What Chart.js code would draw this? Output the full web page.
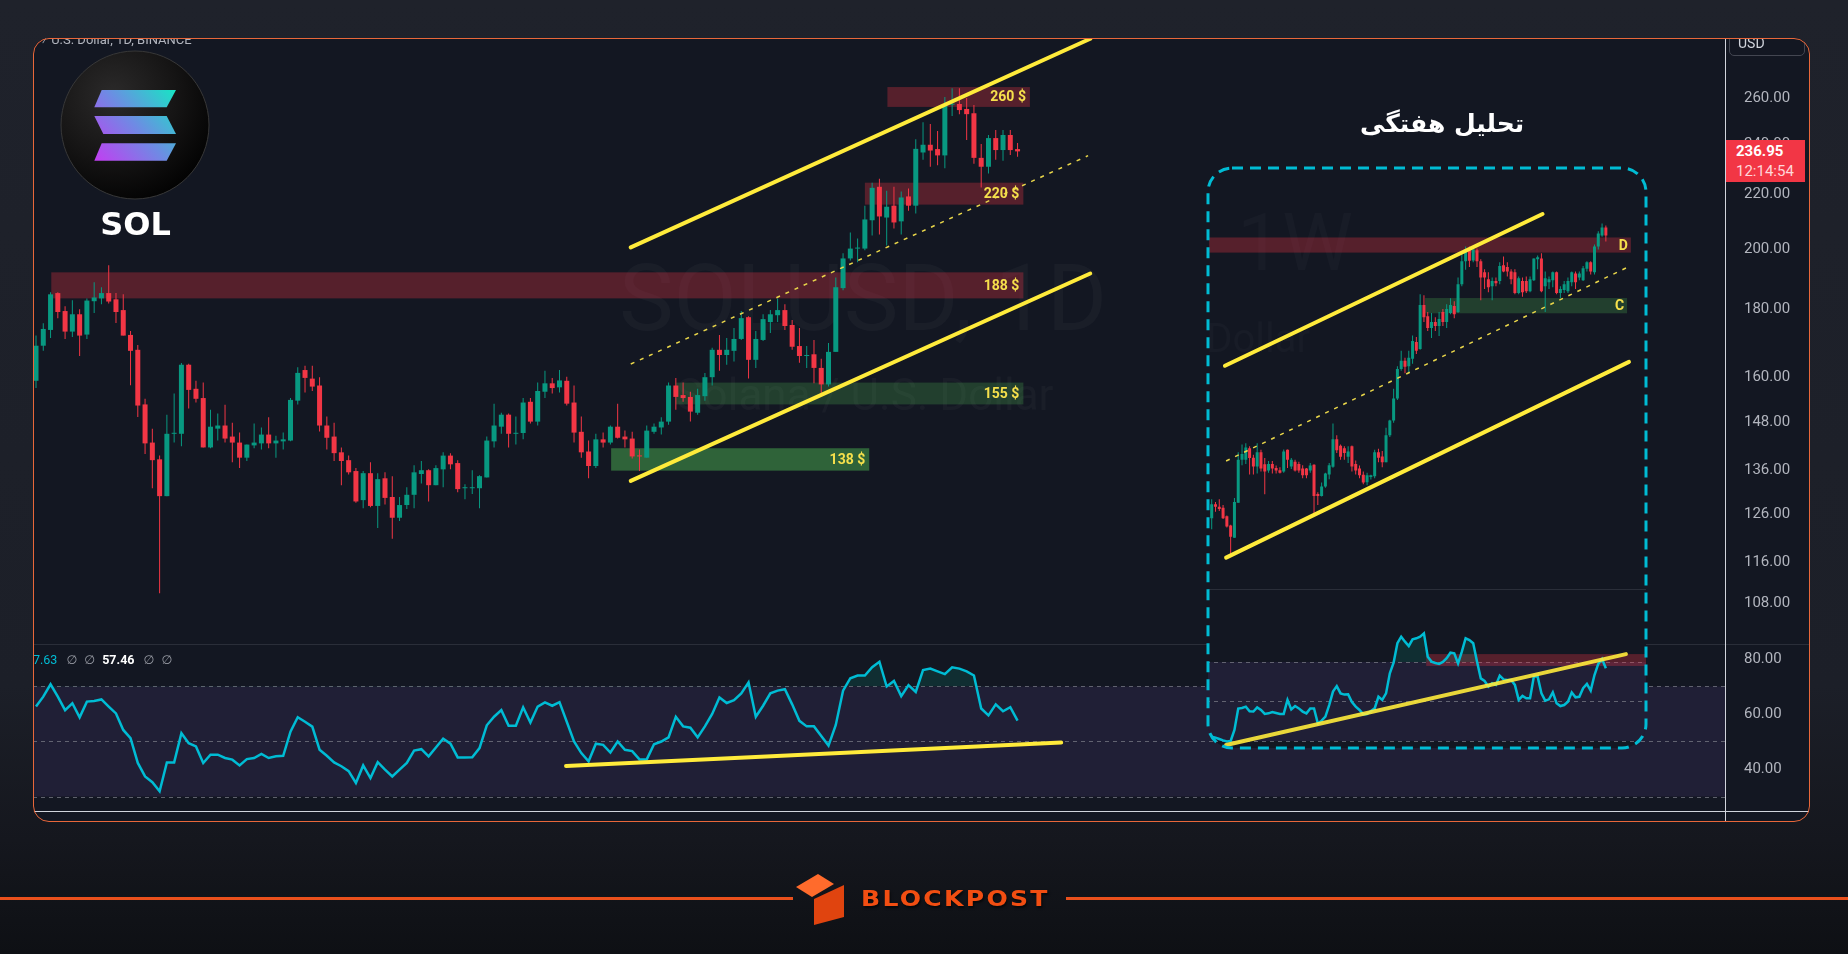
<!DOCTYPE html>
<html lang="en">
<head>
<meta charset="UTF-8">
<title>SOL/USD daily and weekly</title>
<script src="https://cdn.jsdelivr.net/npm/chart.js"></script>
<style>
  html, body { margin: 0; padding: 0; }
  body {
    position: relative; width: 1848px; height: 954px; overflow: hidden;
    background: linear-gradient(180deg, #1f222b 0%, #1c1f28 72%, #15171e 88%, #0e1014 100%);
    font-family: Roboto, "DejaVu Sans", sans-serif;
  }
  .frame {
    position: absolute; left: 33px; top: 38px; width: 1777px; height: 784px;
    border-radius: 16px; overflow: hidden; background: #131722;
  }
  .frame-border {
    position: absolute; left: 33px; top: 38px; width: 1777px; height: 784px; box-sizing: border-box;
    border: 1px solid #e8673a; border-radius: 16px; pointer-events: none;
  }
  canvas { position: absolute; display: block; }
  #priceChart { left: 0; top: 0; }
  #rsiChart { left: 0; top: 606px; }
  #weeklyChart { left: 1173px; top: 128px; }
  .line { position: absolute; }
  .header { position: absolute; left: 9px; top: -6px; font-size: 13px; line-height: 16px; color: #b2b5be; white-space: nowrap; }
  .usd {
    position: absolute; left: 1696px; top: -7px; width: 76px; height: 25px; box-sizing: border-box;
    border: 1px solid #434651; border-radius: 5px; color: #d1d4dc; font-size: 14px;
    line-height: 23px; padding-left: 8px;
  }
  .tag {
    position: absolute; left: 1693px; top: 102px; width: 79px; height: 42px; box-sizing: border-box;
    background: #f23645; padding: 2px 0 0 10px; font-size: 15px; line-height: 19.5px;
  }
  .tag b { color: #fff; display: block; }
  .tag span { color: #ffd6d9; display: block; }
  .legend { position: absolute; left: -7px; top: 614px; font-size: 12.5px; line-height: 16px; white-space: nowrap; color: #9598a1; }
  .legend span { margin-right: 7px; }
  .legend .v { color: #00bcd4; margin-right: 9px; }
  .legend .w { color: #ffffff; font-weight: bold; margin-right: 9px; }
  .title {
    position: absolute; left: 1342px; top: 107px; width: 200px; text-align: center; direction: rtl;
    font-family: "DejaVu Sans", sans-serif; font-weight: bold; font-size: 25px; line-height: 34px; color: #ffffff;
  }
  .decor { position: absolute; left: 0; top: 0; pointer-events: none; }
  .brand {
    position: absolute; left: 861px; top: 886px; font-family: "DejaVu Sans", sans-serif; font-weight: bold;
    font-size: 22px; line-height: 26px; letter-spacing: 2px; color: #f24e12;
    transform: scaleX(1.14); transform-origin: left center; text-shadow: 1px 2px 2px rgba(0,0,0,0.6);
  }
</style>
</head>
<body>

<div class="frame">
  <canvas id="priceChart" width="1776" height="606"></canvas>
  <canvas id="rsiChart" width="1776" height="178"></canvas>
  <div class="line" style="left:0;top:606px;width:1776px;height:1px;background:#2a2e39"></div>
  <canvas id="weeklyChart" width="442" height="584"></canvas>
  <div class="line" style="left:1692px;top:0;width:1px;height:784px;background:#d1d4dc"></div>
  <div class="line" style="left:0;top:773px;width:1776px;height:1px;background:#d1d4dc"></div>
  <div class="header">⁄ U.S. Dollar, 1D, BINANCE</div>
  <div class="usd">USD</div>
  <div class="tag"><b>236.95</b><span>12:14:54</span></div>
  <div class="legend"><span class="v">57.63</span><span>∅</span><span>∅</span><span class="w">57.46</span><span>∅</span><span>∅</span></div>
</div>
<div class="frame-border"></div>

<div class="title">تحلیل هفتگی</div>

<svg class="decor" width="1848" height="954" viewBox="0 0 1848 954">
  <defs>
    <radialGradient id="coinFill" cx="0.35" cy="0.3" r="0.8">
      <stop offset="0" stop-color="#2b2a2a"/>
      <stop offset="0.55" stop-color="#151414"/>
      <stop offset="1" stop-color="#000000"/>
    </radialGradient>
    <linearGradient id="barFill" x1="94" y1="161" x2="176" y2="90" gradientUnits="userSpaceOnUse">
      <stop offset="0" stop-color="#c43cf2"/>
      <stop offset="0.5" stop-color="#6f8ae4"/>
      <stop offset="1" stop-color="#16e6c4"/>
    </linearGradient>
  </defs>
  <circle cx="135" cy="125" r="74" fill="url(#coinFill)" stroke="#383838" stroke-width="1"/>
  <path d="M101.7 90 H176 L166.7 107.3 H94.3 Z" fill="url(#barFill)"/>
  <path d="M94.3 116 H166.7 L176 134 H103.3 Z" fill="url(#barFill)"/>
  <path d="M101.7 143.3 H176 L166.7 160.7 H94.3 Z" fill="url(#barFill)"/>
  <text x="135.5" y="235" text-anchor="middle" font-family="DejaVu Sans" font-weight="bold" font-size="32" fill="#ffffff">SOL</text>
  <rect x="0" y="897" width="793" height="3" fill="#e9501c"/>
  <rect x="1066" y="897" width="782" height="3" fill="#e9501c"/>
  <polygon points="818,874 834,884 812,897 796,887" fill="#ff6b2c"/>
  <polygon points="814,899 844,885 844,917 814,925" fill="#e0440f"/>
</svg>
<div class="brand">BLOCKPOST</div>

<script>
const UP = '#089981';
const DOWN = '#f23645';
const YELLOW = '#ffeb3b';
const BG = '#131722';
const LABEL_YELLOW = '#f6e04c';

// daily candles, [open, high, low, close]
const dailyCandles = [
  [159, 172, 157, 169], [169, 175.7, 167.5, 174], [173.7, 185.5, 171.3, 184.8], [185.2, 185.5, 177.3, 179.2],
  [179.5, 181, 171, 173.2], [173.2, 182.9, 171.6, 178.5], [178.5, 180.1, 166, 172], [172.3, 183.5, 171, 182.8],
  [182.6, 188.7, 178.9, 183.8], [183.5, 187.1, 181.6, 185.2], [185.2, 194.4, 181.9, 182.5], [183.2, 185.2, 175.8, 179.2],
  [179.8, 184.8, 172, 172], [172.2, 173.4, 157.8, 167.5], [167.8, 169.2, 149.3, 152.3], [152.6, 154.1, 140, 142.6],
  [142.8, 146.3, 131.9, 138.5], [138.7, 139.6, 109.9, 130.1], [130.1, 149.9, 130.1, 145], [145, 155.5, 142.8, 145.2],
  [145, 164, 141.9, 163.5], [163.5, 163.8, 151.5, 156.5], [156.8, 159, 153.1, 154.1], [154.3, 158.5, 141.6, 141.6],
  [141.6, 151.2, 141.4, 146.8], [146.3, 150.2, 143.3, 147.1], [147.1, 152.5, 142.8, 143.8], [144.3, 147.8, 138, 142.8],
  [142.8, 145.3, 136.6, 139.1], [139.1, 142.3, 138.3, 142.3], [142.1, 147.6, 141.4, 142.8], [142.6, 146.6, 141.1, 144.8],
  [144.8, 149.2, 141.4, 142.6], [142.6, 144.5, 139.1, 143.3], [143.1, 145.3, 141.1, 143.6], [143.3, 154.3, 143.1, 153.8],
  [153.6, 162.8, 152.6, 161.2], [162, 163.2, 155.8, 159.8], [159.6, 163.2, 156.2, 157.4], [157.7, 160, 145.6, 147.1],
  [147.1, 149.4, 141.1, 144], [144.3, 147.8, 138.3, 140.2], [140.4, 141.6, 132.6, 138.3], [138.5, 139.6, 135.1, 135.6],
  [135.9, 136.6, 128.6, 128.9], [129.2, 135.9, 127.4, 135.4], [135.4, 138, 127.6, 127.9], [127.9, 135.4, 123.1, 134],
  [134.2, 135.6, 128.2, 129.7], [129.9, 134.7, 120.8, 125.3], [125.3, 129.9, 124.6, 128.1], [128.1, 132.1, 127.2, 130.4],
  [130.4, 137.3, 127.4, 135.6], [135.2, 138.3, 133, 136.1], [136.1, 136.3, 128.9, 132.6], [132.6, 137.3, 132.6, 136.6],
  [136.3, 140.4, 132.1, 139.6], [139.6, 140.2, 136.3, 137.5], [137.8, 138.5, 131, 131.7], [131.9, 132.8, 129.4, 132.1],
  [131.9, 136.1, 130.6, 132.1], [131.9, 134.9, 127.4, 134.7], [134.4, 144.3, 134.4, 143.3], [143.1, 152.8, 141.6, 147.1],
  [146.8, 150.4, 145, 149.9], [149.9, 150.2, 141.6, 145], [145, 149.4, 142.3, 145.2], [145.2, 154.3, 143.6, 153.1],
  [153.3, 154.3, 147.6, 148.1], [148.1, 158.5, 147.1, 156.2], [156, 161.8, 154.3, 158.3], [158.3, 159.8, 155.5, 157],
  [157.2, 162, 155.8, 159.1], [159, 160.1, 152.3, 152.8], [153.1, 157.7, 142.8, 145.3], [145.5, 149.4, 139.1, 140.4],
  [140.6, 143.3, 134.2, 137.1], [137.1, 145, 136.6, 143.6], [143.6, 145.3, 141.6, 142.8], [142.8, 147.1, 142.3, 146.8],
  [146.8, 152.8, 143.8, 144], [144.3, 145.8, 141.6, 143.6], [143.8, 145.5, 138.9, 139.4], [139.6, 141.1, 135.9, 139.4],
  [139.1, 147.1, 139.1, 145.8], [145.5, 147.6, 145, 146.8], [146.6, 149.2, 144.8, 148.1], [148.1, 158.5, 147.3, 157.7],
  [157.7, 159.8, 151.2, 154.6], [155.1, 158.5, 153.3, 154.3], [154.6, 156, 148.1, 150.7], [150.4, 156.8, 149.9, 155.1],
  [154.8, 161.2, 153.6, 160], [160, 168.4, 157.7, 167.8], [167.8, 172.2, 161.8, 166.3], [166.3, 171.3, 163.5, 167.8],
  [167.5, 174.3, 164.4, 171], [171, 179.5, 170.7, 177.3], [177.6, 177.9, 159.6, 164.9], [164.9, 173.4, 162.6, 171],
  [170.7, 178.5, 170.4, 177], [176.1, 179.8, 172.8, 178.5], [178.2, 183.5, 176.1, 179.8], [179.8, 181.6, 173.7, 174.9],
  [175.2, 176.7, 167.8, 168.7], [168.9, 174.3, 164.1, 166], [166, 168.9, 162.6, 166.2], [166.5, 170.7, 158.3, 162.6],
  [162.6, 165.2, 155.5, 158], [158, 169.8, 157.4, 167.2], [167.2, 190.3, 167.2, 187.1], [186.8, 198.5, 186.1, 196.7],
  [196.7, 205.8, 196, 200.1], [200.1, 203.6, 195.4, 200.3], [200.1, 215.6, 199.5, 210.5], [210.2, 224.4, 204.7, 222.4],
  [222.8, 225.9, 205.1, 211.6], [211.2, 221.3, 201.2, 215.2], [215.6, 222.8, 207.2, 209.4], [209.8, 221, 205.1, 218.7],
  [219.1, 222.1, 213.7, 215.6], [215.6, 242, 212.7, 238], [236.5, 249.3, 233.5, 239.7], [239.7, 248.5, 230.7, 237.3],
  [237.9, 245.5, 231.3, 235.3], [235.3, 260.4, 230.1, 256.9], [257, 264.5, 252, 257.3], [257.3, 264.5, 252.8, 254.6],
  [255.1, 260, 241.7, 252.8], [253.2, 256.9, 231.9, 234.3], [234.3, 240, 222.5, 230.7], [230.7, 243.8, 228, 242.5],
  [242.5, 245.9, 233.5, 237.5], [237.5, 245.9, 233.1, 243.8], [243.8, 245.9, 235.5, 237.5], [237.9, 240.4, 234.7, 236.95]
];

// daily RSI, one value per daily candle
const dailyRsi = [
  62.7, 66.3, 70.8, 66.3, 61.4, 63.9, 58.8, 64.5, 64.7, 65.3,
  62.7, 60.2, 54.2, 51.2, 42.2, 37.3, 35.2, 31.9, 42.4, 42.4,
  53, 49.4, 48.2, 42.2, 45.2, 45.2, 44, 43.4, 41.3, 43.6,
  44, 45.5, 44, 44.6, 44.8, 53.6, 58.8, 57.2, 55.4, 47,
  44.8, 42.4, 41, 39.2, 34.9, 41.3, 36.7, 42.5, 39.8, 37.3,
  39.8, 42.2, 46.7, 47.2, 44.6, 47.8, 51, 49.2, 44.2, 44.2,
  44.3, 47.6, 55.9, 59, 61.4, 55.7, 55.7, 62.4, 56.9, 62.7,
  64.2, 63, 64.3, 57.2, 50, 45.8, 42.8, 49.2, 48.8, 46,
  50, 47, 46.5, 43.5, 43.5, 49, 50, 51.5, 59, 55.5,
  55, 51.5, 55.5, 60, 66, 64, 65, 67.5, 71.5, 59,
  63, 67.5, 68.5, 69, 63.5, 57.5, 55.5, 55.5, 52, 48.5,
  56, 68.5, 73, 74, 74, 77, 79, 70, 72, 66.5,
  70.5, 68, 76, 76.5, 75.5, 74.5, 77, 76.5, 75.5, 74,
  62, 59.5, 63.5, 61, 62.5, 57.6
];

const priceTicks = [260, 240, 220, 200, 180, 160, 148, 136, 126, 116, 108];
const rsiTicks = [80, 60, 40];
const rsiLevels = [70, 50, 30];

// daily zones: candle index range and price range
const zoneLabels = ['188 $', '260 $', '220 $', '155 $', '138 $'];
const zoneKind = ['resistance', 'resistance', 'resistance', 'support', 'strongSupport'];
const zoneStart = [2.1, 117.1, 114.0, 88.0, 79.1];
const zoneEnd = [135.8, 136.7, 135.8, 135.8, 114.6];
const zoneHigh = [192.0, 265.0, 224.4, 158.5, 141.4];
const zoneLow = [183.5, 256.0, 216.0, 152.6, 136.0];

// daily rising channel: upper rail, lower rail (solid) and the dashed mid line
const railStart = [81.8, 81.8];
const railEnd = [145.0, 145.0];
const railFrom = [200.5, 133.6];
const railTo = [288.2, 191.6];
const midStart = [81.8, 163.7];
const midEnd = [144.7, 235.2];
const rsiTrendIdx = [72.9, 141.0];
const rsiTrendVal = [41.1, 49.6];

// weekly inset candles, [open, high, low, close]
const weeklyCandles = [
  [125.2, 129.4, 122.8, 128.3], [128.3, 128.8, 126.6, 127.7], [127.7, 129.4, 126.8, 127.2], [127.5, 128.1, 125, 125.2],
  [125.6, 125.8, 123.2, 123.4], [123.6, 123.8, 117, 121.2], [121, 129.7, 121, 128.8], [128.6, 140.4, 128.6, 138.6],
  [138.6, 142.3, 137.3, 140], [138.6, 142.6, 137.6, 141.6], [141.4, 141.9, 135.1, 139], [139.1, 139.8, 135.1, 137],
  [137, 142.6, 135.3, 140.4], [140.4, 141, 135.8, 136.5], [137.5, 139, 130.5, 135.8], [136, 138.3, 135.5, 137.6],
  [137.6, 138.3, 135.3, 136.5], [136.6, 137.2, 135.3, 136], [136.1, 136.8, 135.3, 135.5], [135.8, 141.1, 135.5, 140.6],
  [141, 141.1, 136.6, 138.6], [137, 139, 136.4, 138.6], [138.1, 138.6, 135.8, 136], [137.6, 138.1, 135.5, 136],
  [136.5, 137.3, 134.2, 134.9], [136.5, 136.6, 134.2, 134.9], [136, 137.8, 135.5, 137.2], [137.4, 137.5, 126.3, 130.1],
  [130.6, 131, 128.1, 130.1], [130.1, 133.2, 130, 132.3], [132.3, 135.5, 132, 135.3], [135.1, 137.8, 134, 137.3],
  [136.9, 147.6, 136.7, 143.6], [143.6, 144.6, 140.2, 140.9], [142, 142.3, 138.6, 139.3], [141.4, 141.9, 138.6, 140.2],
  [139.3, 141.9, 137.8, 140.6], [141.9, 142.1, 135.8, 137], [137.6, 138.4, 135.1, 136], [136.5, 137.2, 134.2, 134.9],
  [135, 135.8, 132.8, 133.2], [133.3, 135.5, 132.6, 134.9], [134.5, 135, 133.9, 134.9], [134.7, 141, 134.2, 140.4],
  [140.4, 141.3, 138, 139.1], [139.4, 140.7, 136.8, 138], [138, 146.5, 138, 144.6], [144.6, 148.6, 144.2, 148.4],
  [148.4, 156.8, 147.8, 154.2], [154.2, 163.1, 153.8, 162.3], [162.3, 167.5, 161.8, 164.6], [164.6, 165.5, 161.1, 162.9],
  [163.1, 167.5, 161.1, 165.5], [165.2, 172, 163.8, 170.4], [170.1, 171.6, 166.6, 167.5], [168, 184.8, 167.8, 181.4],
  [181.4, 184.5, 176.1, 177.6], [177.9, 179.2, 173.4, 174.3], [174.3, 178.9, 171.3, 176.1], [176.1, 177.6, 173.4, 174.9],
  [174.9, 179.2, 171.9, 177], [179.2, 180.1, 174.9, 176.1], [176.1, 181.6, 174.3, 180.1], [178.9, 183.5, 178.5, 181.4],
  [181.1, 182.6, 177.3, 178.5], [179.2, 190.3, 178.9, 188.1], [188.1, 199.1, 187.4, 195.7], [195.7, 200.8, 192.9, 199.8],
  [199.8, 200.8, 193.8, 195.9], [196, 200.5, 195.4, 199.8], [199.5, 200.1, 193.8, 195.7], [195.7, 196.4, 182.9, 190.3],
  [192, 193, 186.5, 190.3], [189.7, 192, 185.5, 187.1], [187.4, 190.3, 182.9, 189.1], [189.1, 190.3, 187.4, 188.4],
  [189.1, 195.4, 188.1, 194.1], [194.4, 197.4, 192, 192.3], [193.8, 195.4, 190.6, 192.3], [192.3, 193, 188.1, 189.7],
  [192, 193, 184.8, 185.2], [185.2, 190.6, 184.8, 190], [189.1, 190.3, 184, 185.5], [189.1, 190.6, 185.2, 185.8],
  [185.8, 190.6, 185.5, 189.7], [189.4, 196.7, 189.1, 196.7], [196.4, 197.7, 193, 197.1], [196.7, 198.5, 185.5, 185.8],
  [187.4, 192.3, 179.2, 190], [188.7, 190.6, 186.5, 189.7], [189.4, 192.3, 187.1, 192], [192, 192.3, 184.8, 185.2],
  [185.2, 187.4, 183.5, 186.5], [186.2, 189.1, 185.2, 188.1], [185.8, 190.3, 185.2, 189.1], [188.7, 192.3, 187.4, 192],
  [191.6, 192.3, 186.5, 188.7], [190.3, 192.3, 189.4, 191.6], [189.4, 194.1, 189.1, 193.4], [193.2, 195.7, 192.3, 195.4],
  [195.4, 195.7, 191.3, 192.3], [192, 201.5, 191.3, 200.8], [200.8, 206.2, 199.8, 205.4], [204.7, 209, 204.3, 207.6],
  [207.6, 208.3, 202.6, 204.7]
];

const weeklyRsi = [
  32.2, 31.7, 31, 30.3, 29.8, 30, 35.6, 46.4, 46.7, 47.4,
  45, 44.9, 47, 45.7, 43.7, 44, 44.7, 44.2, 43.7, 43.7,
  50.8, 46, 47.7, 46.5, 44.9, 44, 46.5, 46.5, 38.9, 40.3,
  42.3, 48.2, 55, 57.8, 54.1, 53.5, 53.6, 49.7, 47.4, 45.7,
  43.5, 43.7, 45.2, 46.5, 52.4, 50.8, 54.1, 64.3, 69.7, 79.5,
  82.8, 80.3, 78.1, 81.5, 82, 82.8, 84.5, 72.7, 70.2, 69.5,
  69, 70, 71.9, 74.7, 74.4, 69.3, 75.2, 82, 81.1, 79.5,
  70.2, 61.7, 60.4, 57.5, 59.2, 58.4, 63.1, 61.2, 60.9, 60.9,
  58.4, 50.8, 52.8, 51.6, 51.6, 62.6, 62.6, 54.1, 50.4, 51.1,
  54.6, 49.1, 47.7, 48.2, 49.9, 54.6, 52.1, 52.4, 56.7, 58.9,
  55.5, 63.4, 69, 71.5, 66.8
];

// weekly zones D (resistance) and C (support)
const weeklyZoneLabels = ['D', 'C'];
const weeklyZoneKind = ['resistance', 'support'];
const weeklyZoneStart = [-0.7, 56.3];
const weeklyZoneEnd = [110.6, 109.6];
const weeklyZoneHigh = [204.0, 183.6];
const weeklyZoneLow = [198.7, 178.8];
// weekly channel: upper rail, lower rail, dashed mid line
const weeklyRailStart = [3.5, 3.8];
const weeklyRailEnd = [87.3, 110.1];
const weeklyRailFrom = [163.2, 116.9];
const weeklyRailTo = [212.5, 164.3];
const weeklyMidStart = [3.8, 138.3];
const weeklyMidEnd = [109.7, 193.7];
const weeklyRsiTrendIdx = [3.8, 109.3];
const weeklyRsiTrendVal = [28, 74];
const weeklyRsiBoxIdx = [56.6, 114.6];
const weeklyRsiBoxVal = [68, 74];

const ZONE_FILL = {
  resistance: 'rgba(242, 54, 69, 0.3)',
  support: 'rgba(76, 175, 80, 0.27)',
  strongSupport: 'rgba(76, 175, 80, 0.5)'
};
const BAND_FILL = 'rgba(126, 87, 194, 0.13)';
const LEVEL_LINE = 'rgba(120, 123, 134, 0.75)';
const OB_FILL = { target: { value: 70 }, above: 'rgba(8, 153, 129, 0.18)', below: 'rgba(0, 0, 0, 0)' };

Chart.defaults.font.family = 'Roboto, "DejaVu Sans", sans-serif';

function candleSets(candles, bodyWidth) {
  const colour = ctx => {
    const c = candles[ctx.dataIndex];
    return c && c[3] >= c[0] ? UP : DOWN;
  };
  const common = { type: 'bar', grouped: false, borderWidth: 0, inflateAmount: 0, backgroundColor: colour };
  return [
    Object.assign({}, common, {
      data: candles.map((c, i) => ({ x: i, y: [c[2], c[1]] })),
      barThickness: 1, order: 3
    }),
    Object.assign({}, common, {
      data: candles.map((c, i) => ({ x: i, y: [Math.min(c[0], c[3]), Math.max(c[0], c[3])] })),
      barThickness: bodyWidth, minBarLength: 1, order: 2
    })
  ];
}

function segment(x0, y0, x1, y1, extra) {
  return Object.assign({
    type: 'line',
    data: [{ x: x0, y: y0 }, { x: x1, y: y1 }],
    borderColor: YELLOW, borderWidth: 4, borderCapStyle: 'round',
    pointRadius: 0, fill: false, order: 0
  }, extra || {});
}

function fixedAxis(ticks, min, max, type) {
  return {
    type: type, position: 'right', min: min, max: max,
    afterFit: s => { s.width = 84; s.paddingTop = 0; s.paddingBottom = 0; },
    afterBuildTicks: s => { s.ticks = ticks.map(v => ({ value: v })); },
    grid: { display: false }, border: { display: false },
    ticks: { color: '#b2b5be', padding: 11, autoSkip: false, font: { size: 15 }, callback: v => Number(v).toFixed(2) }
  };
}

function drawZones(chart, labels, kinds, start, end, high, low) {
  const { ctx, scales: { x, y } } = chart;
  labels.forEach((label, i) => {
    const left = x.getPixelForValue(start[i]);
    const right = x.getPixelForValue(end[i]);
    const top = y.getPixelForValue(high[i]);
    const bottom = y.getPixelForValue(low[i]);
    ctx.fillStyle = ZONE_FILL[kinds[i]];
    ctx.fillRect(left, top, right - left, bottom - top);
  });
}

function drawZoneLabels(chart, labels, start, end, high, low, inset) {
  const { ctx, scales: { x, y } } = chart;
  ctx.save();
  ctx.font = 'bold 14px Roboto';
  ctx.fillStyle = LABEL_YELLOW;
  ctx.textAlign = 'right';
  ctx.textBaseline = 'middle';
  labels.forEach((label, i) => {
    const right = x.getPixelForValue(end[i]);
    const mid = (y.getPixelForValue(high[i]) + y.getPixelForValue(low[i])) / 2;
    ctx.fillText(label, right - inset, mid + 1);
  });
  ctx.restore();
}

function drawRsiBand(chart, scale, left, right) {
  const { ctx } = chart;
  const top = scale.getPixelForValue(70);
  const bottom = scale.getPixelForValue(30);
  ctx.fillStyle = BAND_FILL;
  ctx.fillRect(left, top, right - left, bottom - top);
  ctx.save();
  ctx.strokeStyle = LEVEL_LINE;
  ctx.lineWidth = 1;
  ctx.setLineDash([4, 4]);
  rsiLevels.forEach(v => {
    const py = Math.round(scale.getPixelForValue(v)) + 0.5;
    ctx.beginPath();
    ctx.moveTo(left, py);
    ctx.lineTo(right, py);
    ctx.stroke();
  });
  ctx.restore();
}

const dailyDecor = {
  id: 'dailyDecor',
  beforeDatasetsDraw(chart) {
    const { ctx, chartArea: a } = chart;
    ctx.save();
    ctx.beginPath();
    ctx.rect(a.left, a.top, a.width, a.height);
    ctx.clip();
    ctx.fillStyle = 'rgba(255, 255, 255, 0.03)';
    ctx.textAlign = 'center';
    ctx.textBaseline = 'alphabetic';
    ctx.font = '92px Roboto';
    ctx.fillText('SOLUSD, 1D', 830, 292);
    ctx.font = '44px Roboto';
    ctx.fillText('Solana / U.S. Dollar', 832, 372);
    drawZones(chart, zoneLabels, zoneKind, zoneStart, zoneEnd, zoneHigh, zoneLow);
    ctx.restore();
  },
  afterDatasetsDraw(chart) {
    drawZoneLabels(chart, zoneLabels, zoneStart, zoneEnd, zoneHigh, zoneLow, 4);
  }
};

const rsiDecor = {
  id: 'rsiDecor',
  beforeDatasetsDraw(chart) {
    const a = chart.chartArea;
    drawRsiBand(chart, chart.scales.y, a.left, a.right);
  }
};

const weeklyDecor = {
  id: 'weeklyDecor',
  beforeDraw(chart) {
    const { ctx, width, height } = chart;
    ctx.save();
    ctx.beginPath();
    ctx.roundRect(2, 2, width - 4, height - 4, 24);
    ctx.clip();
    ctx.fillStyle = BG;
    ctx.fillRect(0, 0, width, height);
  },
  beforeDatasetsDraw(chart) {
    const { ctx, width, scales } = chart;
    ctx.save();
    ctx.fillStyle = 'rgba(255, 255, 255, 0.025)';
    ctx.textBaseline = 'alphabetic';
    ctx.textAlign = 'left';
    ctx.font = '80px Roboto';
    ctx.fillText('1W', 31, 104);
    ctx.textAlign = 'right';
    ctx.font = '40px Roboto';
    ctx.fillText('Solana / U.S. Dollar', 104, 186);
    ctx.restore();
    ctx.fillStyle = '#2a2e39';
    ctx.fillRect(0, 423, width, 1);
    drawZones(chart, weeklyZoneLabels, weeklyZoneKind, weeklyZoneStart, weeklyZoneEnd, weeklyZoneHigh, weeklyZoneLow);
    drawRsiBand(chart, scales.yRsi, 0, width);
    const bx0 = scales.x.getPixelForValue(weeklyRsiBoxIdx[0]);
    const bx1 = scales.x.getPixelForValue(weeklyRsiBoxIdx[1]);
    const by0 = scales.yRsi.getPixelForValue(weeklyRsiBoxVal[1]);
    const by1 = scales.yRsi.getPixelForValue(weeklyRsiBoxVal[0]);
    ctx.fillStyle = ZONE_FILL.resistance;
    ctx.fillRect(bx0, by0, bx1 - bx0, by1 - by0);
  },
  afterDatasetsDraw(chart) {
    drawZoneLabels(chart, weeklyZoneLabels, weeklyZoneStart, weeklyZoneEnd, weeklyZoneHigh, weeklyZoneLow, 3);
  },
  afterDraw(chart) {
    const { ctx, width, height } = chart;
    ctx.restore();
    ctx.save();
    ctx.strokeStyle = '#00bcd4';
    ctx.lineWidth = 3;
    ctx.setLineDash([11, 7]);
    ctx.beginPath();
    ctx.roundRect(2, 2, width - 4, height - 4, 24);
    ctx.stroke();
    ctx.restore();
  }
};

const baseOptions = {
  responsive: false,
  animation: false,
  events: [],
  layout: { padding: 0, autoPadding: false },
  plugins: { legend: { display: false }, tooltip: { enabled: false } }
};

// daily price pane
new Chart(document.getElementById('priceChart'), {
  type: 'bar',
  data: {
    datasets: [
      ...candleSets(dailyCandles, 5),
      segment(railStart[0], railFrom[0], railEnd[0], railTo[0]),
      segment(railStart[1], railFrom[1], railEnd[1], railTo[1]),
      segment(midStart[0], midStart[1], midEnd[0], midEnd[1], { borderWidth: 1.5, borderDash: [4, 6], borderCapStyle: 'butt', borderColor: '#e9d64a' })
    ]
  },
  options: Object.assign({}, baseOptions, {
    scales: {
      x: { type: 'linear', min: -0.413, max: 232.3, display: false, offset: false },
      y: fixedAxis(priceTicks, 100.6, 288.6, 'logarithmic')
    }
  }),
  plugins: [dailyDecor]
});

// daily RSI pane
new Chart(document.getElementById('rsiChart'), {
  type: 'line',
  data: {
    datasets: [
      {
        data: dailyRsi.map((v, i) => ({ x: i, y: v })),
        borderColor: '#00bcd4', borderWidth: 2.5, pointRadius: 0, tension: 0, order: 1,
        fill: OB_FILL
      },
      segment(rsiTrendIdx[0], rsiTrendVal[0], rsiTrendIdx[1], rsiTrendVal[1])
    ]
  },
  options: Object.assign({}, baseOptions, {
    layout: { padding: { bottom: 11 }, autoPadding: false },
    scales: {
      x: { type: 'linear', min: -0.413, max: 232.3, display: false, offset: false },
      y: fixedAxis(rsiTicks, 24.73, 85.45, 'linear')
    }
  }),
  plugins: [rsiDecor]
});

// weekly inset
new Chart(document.getElementById('weeklyChart'), {
  type: 'bar',
  data: {
    datasets: [
      ...candleSets(weeklyCandles, 3),
      segment(weeklyRailStart[0], weeklyRailFrom[0], weeklyRailEnd[0], weeklyRailTo[0]),
      segment(weeklyRailStart[1], weeklyRailFrom[1], weeklyRailEnd[1], weeklyRailTo[1]),
      segment(weeklyMidStart[0], weeklyMidStart[1], weeklyMidEnd[0], weeklyMidEnd[1], { borderWidth: 1.5, borderDash: [4, 6], borderCapStyle: 'butt', borderColor: '#e9d64a' }),
      {
        type: 'line', yAxisID: 'yRsi', order: 1,
        data: weeklyRsi.map((v, i) => ({ x: i, y: v })),
        borderColor: '#00bcd4', borderWidth: 2.5, pointRadius: 0, tension: 0,
        fill: OB_FILL
      },
      segment(weeklyRsiTrendIdx[0], weeklyRsiTrendVal[0], weeklyRsiTrendIdx[1], weeklyRsiTrendVal[1], { yAxisID: 'yRsi', borderColor: 'rgba(255, 235, 59, 0.9)' })
    ]
  },
  options: Object.assign({}, baseOptions, {
    scales: {
      x: { type: 'linear', min: -1.504, max: 115.12, display: false, offset: false },
      y: { type: 'logarithmic', min: 83.66, max: 231.0, display: false },
      yRsi: { axis: 'y', type: 'linear', position: 'right', min: 25.44, max: 321.1, display: false }
    }
  }),
  plugins: [weeklyDecor]
});
</script>
</body>
</html>
